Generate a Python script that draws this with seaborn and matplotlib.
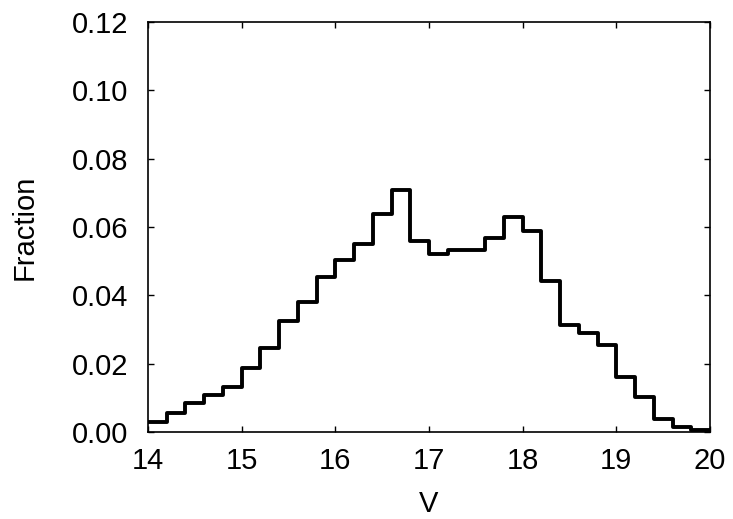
import numpy as np
import pandas as pd
import matplotlib
matplotlib.use("Agg")
import matplotlib.pyplot as plt
import seaborn as sns

# Bin edges (V magnitude) and fraction per bin
bin_edges = [round(14.0 + 0.2 * i, 1) for i in range(31)]
fractions = [0.0028, 0.0057, 0.0084, 0.0108, 0.0133, 0.0187, 0.0247, 0.0326,
             0.0380, 0.0455, 0.0504, 0.0551, 0.0639, 0.0707, 0.0558, 0.0520,
             0.0533, 0.0533, 0.0568, 0.0629, 0.0588, 0.0441, 0.0314, 0.0290,
             0.0256, 0.0162, 0.0102, 0.0037, 0.0014, 0.0005]
x_ticks = [14, 15, 16, 17, 18, 19, 20]
y_ticks = [0.00, 0.02, 0.04, 0.06, 0.08, 0.10, 0.12]

centers = [(a + b) / 2 for a, b in zip(bin_edges[:-1], bin_edges[1:])]
df = pd.DataFrame({"V": centers, "frac": fractions})

sns.set_style("ticks")
plt.rcParams["font.family"] = ["Liberation Sans", "DejaVu Sans"]
plt.rcParams["text.color"] = "black"
plt.rcParams["axes.labelcolor"] = "black"

fig = plt.figure(figsize=(7.33, 5.19), dpi=100)
ax = fig.add_axes([0.2019, 0.1676, 0.7667, 0.79])

sns.histplot(data=df, x="V", weights="frac", bins=bin_edges, element="step",
             fill=False, color="black", linewidth=2.8, ax=ax)

ax.set_xlim(14, 20)
ax.set_ylim(0, 0.12)
ax.set_xticks(x_ticks)
ax.set_xticklabels([str(t) for t in x_ticks])
ax.set_yticks(y_ticks)
ax.set_yticklabels([f"{t:.2f}" for t in y_ticks])
ax.tick_params(direction="in", length=4.5, width=1, top=True, right=True,
               labelsize=21, colors="black")
ax.tick_params(axis="x", pad=10.5)
ax.tick_params(axis="y", pad=14)
for s in ax.spines.values():
    s.set_visible(True)
    s.set_linewidth(1.2)
    s.set_color("black")
ax.set_xlabel("V", fontsize=21, labelpad=11)
ax.set_ylabel("Fraction", fontsize=21, labelpad=24)

fig.savefig("out.png", dpi=100)
